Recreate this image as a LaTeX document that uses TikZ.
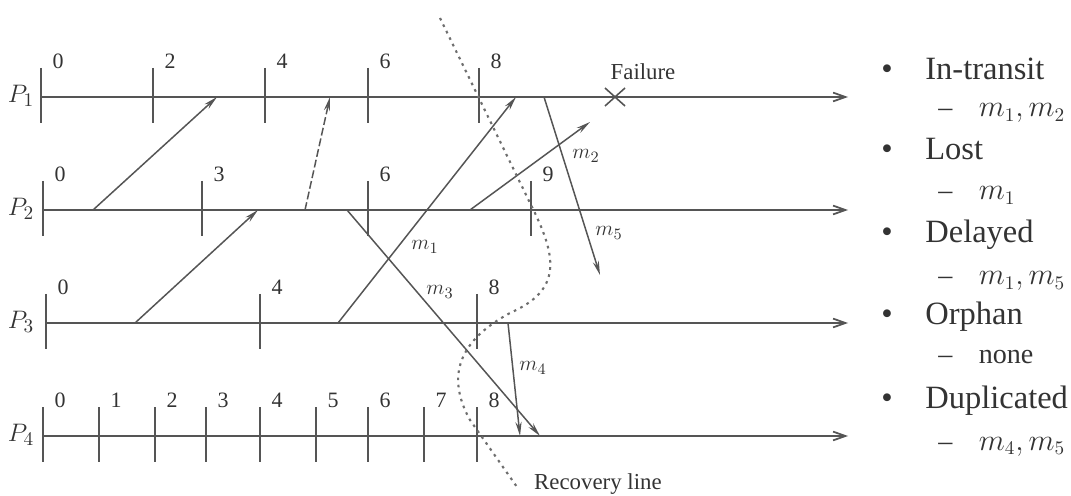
\documentclass[tikz,border=0pt]{standalone}
\usepackage{fontspec}
\setmainfont{Liberation Serif}
\usepackage{amsmath}
\usetikzlibrary{arrows.meta}

\definecolor{linegray}{HTML}{555555}
\definecolor{textgray}{HTML}{333333}

\begin{document}
\begin{tikzpicture}[x=0.02cm,y=-0.02cm,
    proc/.style={linegray, line width=1pt, -{Straight Barb[length=7pt,width=5pt]}},
    tickmark/.style={linegray, line width=1.1pt},
    msg/.style={linegray, line width=0.85pt, -{Stealth[length=8pt,width=3.5pt]}},
    num/.style={textgray, font=\fontsize{12.5}{13}\selectfont},
    mlabel/.style={textgray, font=\fontsize{12.5}{13}\selectfont},
    plabel/.style={textgray, font=\fontsize{15}{15}\selectfont},
    item/.style={textgray, anchor=base west, inner sep=0pt, font=\fontsize{18.5}{19}\selectfont},
    subitem/.style={textgray, anchor=base west, inner sep=0pt, font=\fontsize{16}{16}\selectfont}]
    \useasboundingbox (0,0) rectangle (1071,496);

    % Processes
    \node[plabel] (p1) at (21,96) {$P_1$};
    \node[plabel] (p2) at (21,209) {$P_2$};
    \node[plabel] (p3) at (21,322) {$P_3$};
    \node[plabel] (p4) at (21,435) {$P_4$};
    \draw[proc] (41,97) -- (848,97);
    \draw[proc] (43,210) -- (848,210);
    \draw[proc] (46,323) -- (848,323);
    \draw[proc] (43,436) -- (848,436);

    % Checkpoints
    \foreach \x/\t in {41/0,153/2,265/4,368/6,479/8} {
        \draw[tickmark] (\x,68) -- (\x,123);
        \node[num] (c1-\t) at (\x+17,61) {\t};
    }
    \foreach \x/\t in {43/0,202/3,368/6,531/9} {
        \draw[tickmark] (\x,181) -- (\x,236);
        \node[num] (c2-\t) at (\x+17,174) {\t};
    }
    \foreach \x/\t in {46/0,260/4,477/8} {
        \draw[tickmark] (\x,294) -- (\x,349);
        \node[num] (c3-\t) at (\x+17,287) {\t};
    }
    \foreach \x/\t in {43/0,99/1,155/2,206/3,260/4,316/5,368/6,424/7,477/8} {
        \draw[tickmark] (\x,407) -- (\x,462);
        \node[num] (c4-\t) at (\x+17,400) {\t};
    }

    % Failure
    \draw[linegray, line width=0.9pt] (605,88) -- (625,106) (605,106) -- (625,88);
    \node[textgray, anchor=base, font=\fontsize{13}{13}\selectfont] (fail) at (643,80) {Failure};

    % Messages
    \coordinate (s1) at (93,210);   \coordinate (r1) at (217,97);
    \coordinate (s2) at (305,210);  \coordinate (r2) at (330,97);
    \coordinate (s3) at (135,323);  \coordinate (r3) at (258,210);
    \coordinate (sm1) at (338,323); \coordinate (rm1) at (516,97);
    \coordinate (sm2) at (470,210); \coordinate (rm2) at (590,122);
    \coordinate (sm3) at (347,210); \coordinate (rm3) at (540,436);
    \coordinate (sm4) at (508,323); \coordinate (rm4) at (520,436);
    \coordinate (sm5) at (544,97);  \coordinate (rm5) at (600,275);
    \draw[msg] (s1) -- (r1);
    \draw[msg, dash pattern=on 4.5pt off 1.7pt] (s2) -- (r2);
    \draw[msg] (s3) -- (r3);
    \draw[msg] (sm1) -- (rm1);
    \draw[msg] (sm2) -- (rm2);
    \draw[msg] (sm3) -- (rm3);
    \draw[msg] (sm4) -- (rm4);
    \draw[msg] (sm5) -- (rm5);
    \node[mlabel] (m1) at (425,247) {$m_1$};
    \node[mlabel] (m2) at (586,156) {$m_2$};
    \node[mlabel] (m3) at (440,292) {$m_3$};
    \node[mlabel] (m4) at (533,368) {$m_4$};
    \node[mlabel] (m5) at (609,233) {$m_5$};

    % Recovery line
    \draw[linegray!85, line width=1.2pt, dash pattern=on 1.5pt off 2.6pt]
        (440,18) -- (530,203) .. controls (558,258) and (562,290) .. (510,313)
        .. controls (460,340) and (445,375) .. (470,420) -- (517,487);
    \node[textgray, anchor=base west, font=\fontsize{13}{13}\selectfont] (rec) at (528,489) {Recovery line};

    % Classification
    \node[item, anchor=base] (b1) at (887,80) {•};
    \node[item] (t1) at (925,80) {In-transit};
    \node[subitem] (u1) at (938,117) {–\hspace{15pt}$m_1, m_2$};
    \node[item, anchor=base] (b2) at (887,160) {•};
    \node[item] (t2) at (925,160) {Lost};
    \node[subitem] (u2) at (938,200) {–\hspace{15pt}$m_1$};
    \node[item, anchor=base] (b3) at (887,243) {•};
    \node[item] (t3) at (925,243) {Delayed};
    \node[subitem] (u3) at (938,285) {–\hspace{15pt}$m_1, m_5$};
    \node[item, anchor=base] (b4) at (887,325) {•};
    \node[item] (t4) at (925,325) {Orphan};
    \node[subitem] (u4) at (938,363) {–\hspace{15pt}none};
    \node[item, anchor=base] (b5) at (887,408) {•};
    \node[item] (t5) at (925,408) {Duplicated};
    \node[subitem] (u5) at (938,450) {–\hspace{15pt}$m_4, m_5$};
\end{tikzpicture}
\end{document}
